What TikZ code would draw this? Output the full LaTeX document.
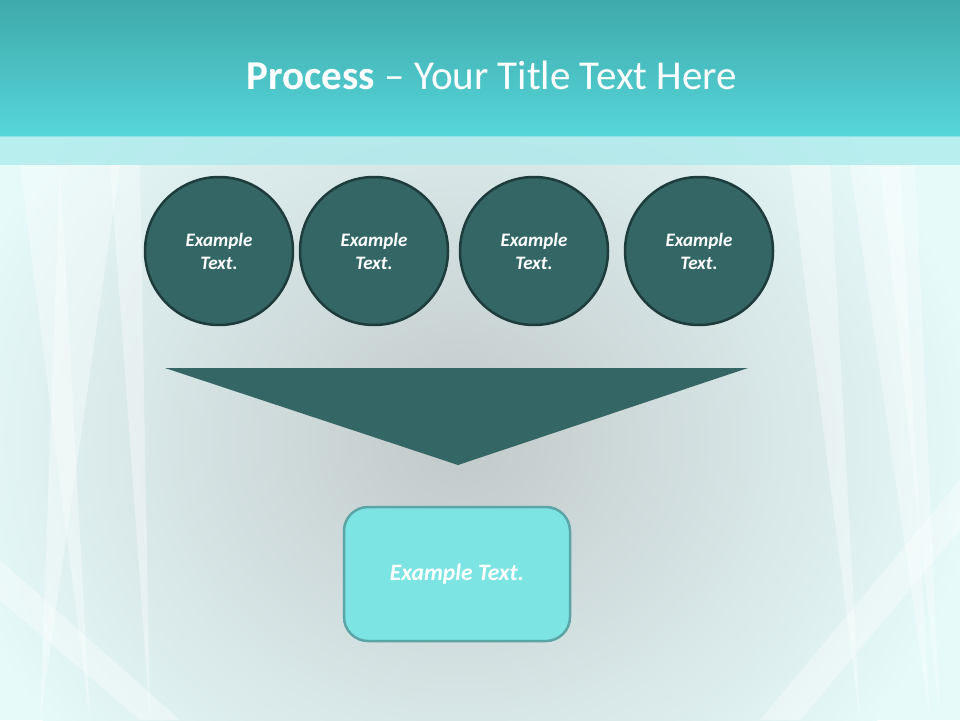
\documentclass[tikz,border=0pt]{standalone}
\usepackage{fontspec}
\setmainfont{Carlito}
\usetikzlibrary{calc}
\definecolor{headtop}{HTML}{3FA9AB}
\definecolor{headbottom}{HTML}{56D6D9}
\definecolor{bandcol}{HTML}{A6E9EB}
\definecolor{bginner}{HTML}{C2C9CA}
\definecolor{bgouter}{HTML}{E6FAFA}
\definecolor{circfill}{HTML}{346666}
\definecolor{circedge}{HTML}{1E3C3C}
\definecolor{boxfill}{HTML}{7DE4E4}
\definecolor{boxedge}{HTML}{5BA5A6}
\newcommand{\stepfont}{\fontsize{19}{23}\selectfont\bfseries\itshape}
\newcommand{\makestep}[2]{
	\node[stepcircle] (#1) at (#2,251) {Example\\Text.};
}
\tikzset{
	stepcircle/.style={circle, fill=circfill, draw=circedge, line width=2.5pt,
		minimum size=148pt, inner sep=0pt, align=center, text=white, font=\stepfont},
	resultbox/.style={rectangle, rounded corners=24pt, fill=boxfill, draw=boxedge,
		line width=2.5pt, minimum width=226pt, minimum height=134pt, text=white,
		font=\fontsize{23.5}{28}\selectfont\bfseries\itshape},
	streak/.style={fill=white, opacity=0.35}
}

\begin{document}
\begin{tikzpicture}[x=1pt,y=-1pt]
	\useasboundingbox (0,0) rectangle (960,720);

	% background
	\begin{scope}
	\clip (0,0) rectangle (960,720);
	\fill[bgouter] (0,0) rectangle (960,720);
	\shade[inner color=bginner, outer color=bgouter] (460,440) ellipse (520 and 470);
	% faint glassy streaks
	\foreach \xa/\xb/\xc in {20/60/90, 110/140/150, 790/830/860, 880/915/940, 60/120/40, 850/900/930}
		\fill[streak] (\xa,165) -- (\xb,165) -- (\xc,720) -- cycle;
	\fill[streak] (0,560) -- (180,720) -- (140,720) -- (0,600) -- cycle;
	\fill[streak] (960,480) -- (760,720) -- (800,720) -- (960,530) -- cycle;
	\end{scope}

	% header
	\shade[top color=headtop, bottom color=headbottom] (0,0) rectangle (960,136);
	\fill[bandcol, opacity=0.7] (0,136) rectangle (960,165);
	\node[text=white, font=\fontsize{41}{46}\selectfont] (title) at (492,75)
		{\textbf{Process} -- Your Title Text Here};

	% steps
	\makestep{s1}{219}
	\makestep{s2}{374}
	\makestep{s3}{534}
	\makestep{s4}{699}

	% funnel
	\coordinate (TL) at (165,368);
	\coordinate (TR) at (748,368);
	\coordinate (T) at (458,465);
	\fill[circfill] (TL) -- (TR) -- (T) -- cycle;

	% result
	\node[resultbox] (result) at (457,574) {Example Text.};

\end{tikzpicture}
\end{document}
